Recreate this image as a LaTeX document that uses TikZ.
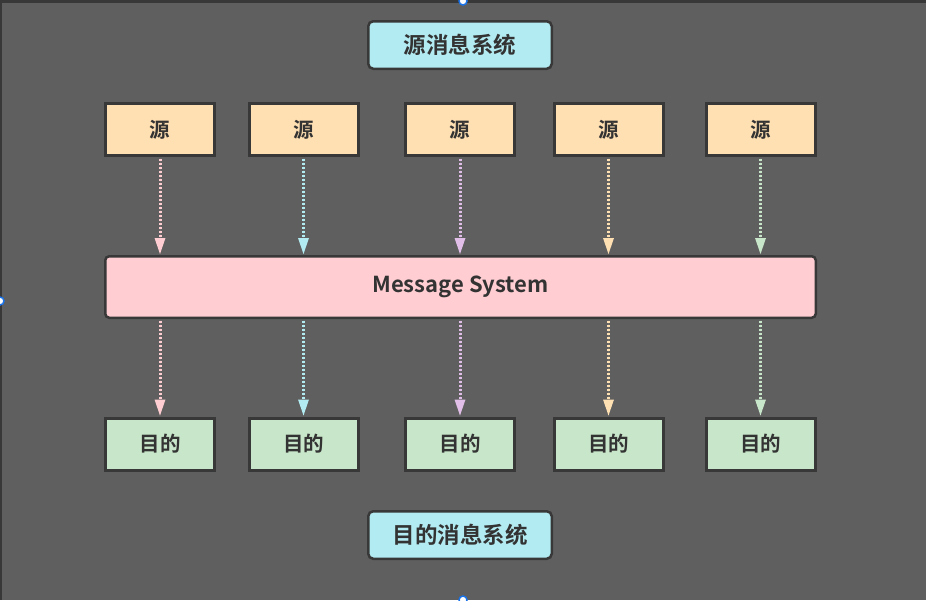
\documentclass[tikz,border=0pt]{standalone}
\usepackage{fontspec}
\setmainfont{Noto Sans CJK SC}[BoldFont={* Bold}]
\usetikzlibrary{arrows.meta}
\definecolor{bg}{HTML}{5F5F5F}
\definecolor{edge}{HTML}{383838}
\definecolor{txt}{HTML}{333333}
\definecolor{cyanf}{HTML}{B2EBF2}
\definecolor{srcf}{HTML}{FFE0B2}
\definecolor{dstf}{HTML}{C8E6C9}
\definecolor{msf}{HTML}{FFCDD2}
\definecolor{apink}{HTML}{FFCDD2}
\definecolor{acyan}{HTML}{B2EBF2}
\definecolor{apurple}{HTML}{E1BEE7}
\definecolor{aorange}{HTML}{FFE0B2}
\definecolor{agreen}{HTML}{C8E6C9}
\definecolor{handle}{HTML}{1A73E8}
\tikzset{
  box/.style={draw=edge, line width=3pt, text=txt, font=\bfseries\fontsize{20.5}{24}\selectfont, inner sep=0pt, minimum width=109pt, minimum height=52pt},
  srcbox/.style={box, fill=srcf},
  dstbox/.style={box, fill=dstf},
  titlebox/.style={draw=edge, line width=2.5pt, rounded corners=5pt, fill=cyanf, text=txt, font=\bfseries\fontsize{22.5}{26}\selectfont, inner sep=0pt, minimum width=183.5pt, minimum height=47.5pt},
  msbox/.style={draw=edge, line width=2.5pt, rounded corners=4pt, fill=msf, text=txt, font=\bfseries\fontsize{22}{26}\selectfont, inner sep=0pt, minimum width=710.5pt, minimum height=61.5pt},
  flow/.style={line width=3pt, dash pattern=on 2pt off 2pt, -{Triangle[width=11pt,length=16pt,line width=0pt]}},
  hnd/.style={circle, draw=handle, fill=white, line width=1.5pt, inner sep=0pt, minimum size=8pt}
}
\begin{document}
\begin{tikzpicture}[x=1pt,y=-1pt]
\useasboundingbox (0,0) rectangle (926,600);
\fill[bg] (0,0) rectangle (926,600);
\fill[edge] (0,0) rectangle (926,3);
\fill[edge] (0,0) rectangle (2,600);

\node[titlebox] (t1) at (460,45) {源消息系统};
\node[titlebox] (t2) at (460,535) {目的消息系统};

\node[srcbox] (s1) at (160,129.5) {源};
\node[srcbox] (s2) at (303.5,129.5) {源};
\node[srcbox] (s3) at (460,129.5) {源};
\node[srcbox] (s4) at (608.5,129.5) {源};
\node[srcbox] (s5) at (760.5,129.5) {源};

\node[msbox] (ms) at (460.5,287) {Message System};

\node[dstbox] (d1) at (160,444) {目的};
\node[dstbox] (d2) at (303.5,444) {目的};
\node[dstbox] (d3) at (460,444) {目的};
\node[dstbox] (d4) at (608.5,444) {目的};
\node[dstbox] (d5) at (760.5,444) {目的};

\foreach \i/\c in {1/apink,2/acyan,3/apurple,4/aorange,5/agreen}{
  \draw[flow, draw=\c, fill=\c] ([yshift=-1.5pt]s\i.south) -- ([yshift=1pt]s\i.south |- ms.north);
  \draw[flow, draw=\c, fill=\c] ([yshift=-1.5pt]d\i.north |- ms.south) -- ([yshift=1pt]d\i.north);
}

\node[hnd] (h1) at (463,1) {};
\node[hnd] (h2) at (0,301) {};
\node[hnd] (h3) at (463,600) {};
\end{tikzpicture}
\end{document}
